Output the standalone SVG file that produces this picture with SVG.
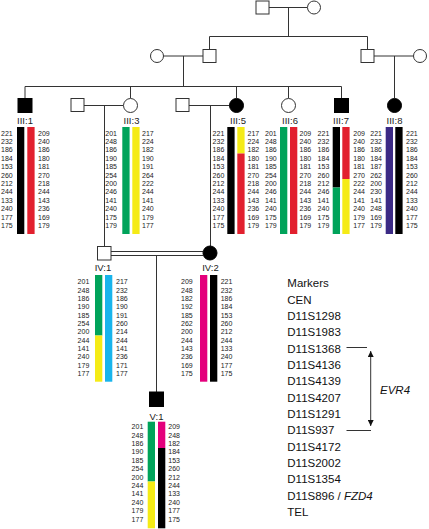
<svg xmlns="http://www.w3.org/2000/svg" width="429" height="529" viewBox="0 0 429 529">
<defs>
<style>
.ln{stroke:#333;stroke-width:1;fill:none}
.sym{stroke:#333;stroke-width:1;fill:#fff}
.aff{stroke:#000;stroke-width:1;fill:#000}
.n{font-family:"Liberation Sans",Arial,sans-serif;font-size:7px;fill:#222}
.lb{font-family:"Liberation Sans",Arial,sans-serif;font-size:9.5px;fill:#222;text-anchor:middle}
.mk{font-family:"Liberation Sans",Arial,sans-serif;font-size:11.5px;fill:#111}
.bk{fill:#000}.rd{fill:#e2202e}.yl{fill:#f5eb16}.gr{fill:#00a35a}.cy{fill:#18b4ec}.mg{fill:#e4007c}.pu{fill:#3b2a85}
</style>
<marker id="ah" markerWidth="6" markerHeight="6" refX="6" refY="3" orient="auto-start-reverse" markerUnits="userSpaceOnUse">
<path d="M0,0 L6,3 L0,6 z" fill="#111"/>
</marker>
</defs>
<rect width="429" height="529" fill="#fff"/>

<g id="connectors">
<path class="ln" d="M269,7.5 H307.5 M288.5,7.5 V36.5 M209.5,36.5 H367.5 M209.5,36.5 V49 M367.5,36.5 V49"/>
<path class="ln" d="M163.5,56 H203 M183.5,56 V86.5 M374,56 H413.5 M394.5,56 V98"/>
<path class="ln" d="M25,86.5 H341.5 M25,86.5 V98 M130.5,86.5 V98 M236.5,86.5 V98 M288.5,86.5 V98 M341.5,86.5 V98"/>
<path class="ln" d="M84,105.5 H123.5 M104.5,105.5 V246 M189,105.5 H229.5 M210.5,105.5 V246"/>
<path class="ln" d="M111,251.5 H203 M111,255.5 H203 M156.5,255.5 V392"/>
</g>

<g id="I-1"><rect class="sym" x="256" y="1" width="13" height="13"/></g>
<g id="I-2"><circle class="sym" cx="314" cy="7.5" r="6.5"/></g>
<g id="II-1"><circle class="sym" cx="157" cy="56" r="6.5"/></g>
<g id="II-2"><rect class="sym" x="203" y="49.5" width="13" height="13"/></g>
<g id="II-3"><rect class="sym" x="361" y="49.5" width="13" height="13"/></g>
<g id="II-4"><circle class="sym" cx="420" cy="56" r="6.5"/></g>

<g id="III-1">
<rect class="aff" x="18" y="98.5" width="14" height="14"/>
<text class="lb" x="25" y="124">III:1</text>
<rect class="bk" x="17" y="127" width="7.3" height="107"/>
<rect class="rd" x="27.3" y="127" width="7.3" height="107"/>
<text class="n" text-anchor="end"><tspan x="12.7" y="135.5">221</tspan><tspan x="12.7" dy="8.42">232</tspan><tspan x="12.7" dy="8.42">186</tspan><tspan x="12.7" dy="8.42">184</tspan><tspan x="12.7" dy="8.42">153</tspan><tspan x="12.7" dy="8.42">260</tspan><tspan x="12.7" dy="8.42">212</tspan><tspan x="12.7" dy="8.42">244</tspan><tspan x="12.7" dy="8.42">133</tspan><tspan x="12.7" dy="8.42">240</tspan><tspan x="12.7" dy="8.42">177</tspan><tspan x="12.7" dy="8.42">175</tspan></text>
<text class="n"><tspan x="38" y="135.5">209</tspan><tspan x="38" dy="8.42">240</tspan><tspan x="38" dy="8.42">186</tspan><tspan x="38" dy="8.42">180</tspan><tspan x="38" dy="8.42">181</tspan><tspan x="38" dy="8.42">270</tspan><tspan x="38" dy="8.42">218</tspan><tspan x="38" dy="8.42">244</tspan><tspan x="38" dy="8.42">143</tspan><tspan x="38" dy="8.42">236</tspan><tspan x="38" dy="8.42">169</tspan><tspan x="38" dy="8.42">179</tspan></text>
</g>

<g id="III-2"><rect class="sym" x="71" y="98.5" width="13" height="13"/></g>

<g id="III-3">
<circle class="sym" cx="130.5" cy="105.5" r="7"/>
<text class="lb" x="131.5" y="124">III:3</text>
<rect class="gr" x="122.3" y="127" width="7.3" height="107"/>
<rect class="yl" x="132.3" y="127" width="7.3" height="107"/>
<text class="n" text-anchor="end"><tspan x="117" y="135.5">201</tspan><tspan x="117" dy="8.42">248</tspan><tspan x="117" dy="8.42">186</tspan><tspan x="117" dy="8.42">190</tspan><tspan x="117" dy="8.42">185</tspan><tspan x="117" dy="8.42">254</tspan><tspan x="117" dy="8.42">200</tspan><tspan x="117" dy="8.42">246</tspan><tspan x="117" dy="8.42">141</tspan><tspan x="117" dy="8.42">240</tspan><tspan x="117" dy="8.42">175</tspan><tspan x="117" dy="8.42">179</tspan></text>
<text class="n"><tspan x="142" y="135.5">217</tspan><tspan x="142" dy="8.42">224</tspan><tspan x="142" dy="8.42">182</tspan><tspan x="142" dy="8.42">190</tspan><tspan x="142" dy="8.42">191</tspan><tspan x="142" dy="8.42">264</tspan><tspan x="142" dy="8.42">222</tspan><tspan x="142" dy="8.42">244</tspan><tspan x="142" dy="8.42">141</tspan><tspan x="142" dy="8.42">240</tspan><tspan x="142" dy="8.42">179</tspan><tspan x="142" dy="8.42">177</tspan></text>
</g>

<g id="III-4"><rect class="sym" x="176" y="98.5" width="13" height="13"/></g>

<g id="III-5">
<circle class="aff" cx="236.5" cy="105.5" r="7"/>
<text class="lb" x="238" y="124">III:5</text>
<rect class="bk" x="227.3" y="127" width="7.3" height="107"/>
<rect class="yl" x="237.3" y="127" width="7.3" height="26.5"/>
<rect class="rd" x="237.3" y="153.5" width="7.3" height="80.5"/>
<text class="n" text-anchor="end"><tspan x="224.3" y="135.5">221</tspan><tspan x="224.3" dy="8.42">232</tspan><tspan x="224.3" dy="8.42">186</tspan><tspan x="224.3" dy="8.42">184</tspan><tspan x="224.3" dy="8.42">153</tspan><tspan x="224.3" dy="8.42">260</tspan><tspan x="224.3" dy="8.42">212</tspan><tspan x="224.3" dy="8.42">244</tspan><tspan x="224.3" dy="8.42">133</tspan><tspan x="224.3" dy="8.42">240</tspan><tspan x="224.3" dy="8.42">177</tspan><tspan x="224.3" dy="8.42">175</tspan></text>
<text class="n"><tspan x="247.5" y="135.5">217</tspan><tspan x="247.5" dy="8.42">224</tspan><tspan x="247.5" dy="8.42">182</tspan><tspan x="247.5" dy="8.42">180</tspan><tspan x="247.5" dy="8.42">181</tspan><tspan x="247.5" dy="8.42">270</tspan><tspan x="247.5" dy="8.42">218</tspan><tspan x="247.5" dy="8.42">244</tspan><tspan x="247.5" dy="8.42">143</tspan><tspan x="247.5" dy="8.42">236</tspan><tspan x="247.5" dy="8.42">169</tspan><tspan x="247.5" dy="8.42">179</tspan></text>
</g>

<g id="III-6">
<circle class="sym" cx="288.5" cy="105.5" r="7"/>
<text class="lb" x="290" y="124">III:6</text>
<rect class="gr" x="280" y="127" width="7.3" height="107"/>
<rect class="rd" x="290" y="127" width="7.3" height="107"/>
<text class="n" text-anchor="end"><tspan x="276.7" y="135.5">201</tspan><tspan x="276.7" dy="8.42">248</tspan><tspan x="276.7" dy="8.42">186</tspan><tspan x="276.7" dy="8.42">190</tspan><tspan x="276.7" dy="8.42">185</tspan><tspan x="276.7" dy="8.42">254</tspan><tspan x="276.7" dy="8.42">200</tspan><tspan x="276.7" dy="8.42">246</tspan><tspan x="276.7" dy="8.42">141</tspan><tspan x="276.7" dy="8.42">240</tspan><tspan x="276.7" dy="8.42">175</tspan><tspan x="276.7" dy="8.42">179</tspan></text>
<text class="n"><tspan x="299.5" y="135.5">209</tspan><tspan x="299.5" dy="8.42">240</tspan><tspan x="299.5" dy="8.42">186</tspan><tspan x="299.5" dy="8.42">180</tspan><tspan x="299.5" dy="8.42">181</tspan><tspan x="299.5" dy="8.42">270</tspan><tspan x="299.5" dy="8.42">218</tspan><tspan x="299.5" dy="8.42">244</tspan><tspan x="299.5" dy="8.42">143</tspan><tspan x="299.5" dy="8.42">236</tspan><tspan x="299.5" dy="8.42">169</tspan><tspan x="299.5" dy="8.42">179</tspan></text>
</g>

<g id="III-7">
<rect class="aff" x="334.5" y="98.5" width="14" height="14"/>
<text class="lb" x="341" y="124">III:7</text>
<rect class="bk" x="332.7" y="127" width="7.3" height="60.5"/>
<rect class="gr" x="332.7" y="187.5" width="7.3" height="46.5"/>
<rect class="rd" x="342.3" y="127" width="7.3" height="52"/>
<rect class="yl" x="342.3" y="179" width="7.3" height="55"/>
<text class="n" text-anchor="end"><tspan x="329.3" y="135.5">221</tspan><tspan x="329.3" dy="8.42">232</tspan><tspan x="329.3" dy="8.42">186</tspan><tspan x="329.3" dy="8.42">184</tspan><tspan x="329.3" dy="8.42">153</tspan><tspan x="329.3" dy="8.42">260</tspan><tspan x="329.3" dy="8.42">212</tspan><tspan x="329.3" dy="8.42">246</tspan><tspan x="329.3" dy="8.42">141</tspan><tspan x="329.3" dy="8.42">240</tspan><tspan x="329.3" dy="8.42">175</tspan><tspan x="329.3" dy="8.42">179</tspan></text>
<text class="n"><tspan x="353.3" y="135.5">209</tspan><tspan x="353.3" dy="8.42">240</tspan><tspan x="353.3" dy="8.42">186</tspan><tspan x="353.3" dy="8.42">180</tspan><tspan x="353.3" dy="8.42">181</tspan><tspan x="353.3" dy="8.42">270</tspan><tspan x="353.3" dy="8.42">222</tspan><tspan x="353.3" dy="8.42">244</tspan><tspan x="353.3" dy="8.42">141</tspan><tspan x="353.3" dy="8.42">240</tspan><tspan x="353.3" dy="8.42">179</tspan><tspan x="353.3" dy="8.42">177</tspan></text>
</g>

<g id="III-8">
<circle class="aff" cx="394.5" cy="105.5" r="7"/>
<text class="lb" x="394.5" y="124">III:8</text>
<rect class="pu" x="385.7" y="127" width="7.3" height="107"/>
<rect class="bk" x="395.3" y="127" width="7.3" height="107"/>
<text class="n" text-anchor="end"><tspan x="382" y="135.5">221</tspan><tspan x="382" dy="8.42">232</tspan><tspan x="382" dy="8.42">186</tspan><tspan x="382" dy="8.42">184</tspan><tspan x="382" dy="8.42">187</tspan><tspan x="382" dy="8.42">262</tspan><tspan x="382" dy="8.42">200</tspan><tspan x="382" dy="8.42">230</tspan><tspan x="382" dy="8.42">141</tspan><tspan x="382" dy="8.42">248</tspan><tspan x="382" dy="8.42">169</tspan><tspan x="382" dy="8.42">179</tspan></text>
<text class="n"><tspan x="406" y="135.5">221</tspan><tspan x="406" dy="8.42">232</tspan><tspan x="406" dy="8.42">186</tspan><tspan x="406" dy="8.42">184</tspan><tspan x="406" dy="8.42">153</tspan><tspan x="406" dy="8.42">260</tspan><tspan x="406" dy="8.42">212</tspan><tspan x="406" dy="8.42">244</tspan><tspan x="406" dy="8.42">133</tspan><tspan x="406" dy="8.42">240</tspan><tspan x="406" dy="8.42">177</tspan><tspan x="406" dy="8.42">175</tspan></text>
</g>

<g id="IV-1">
<rect class="sym" x="97.5" y="246.5" width="13.5" height="13.5"/>
<text class="lb" x="103" y="270.5">IV:1</text>
<rect class="gr" x="95" y="275" width="7.3" height="60.5"/>
<rect class="yl" x="95" y="335.5" width="7.3" height="46.2"/>
<rect class="cy" x="105" y="275" width="7.3" height="106.7"/>
<text class="n" text-anchor="end"><tspan x="89.3" y="284.2">201</tspan><tspan x="89.3" dy="8.35">248</tspan><tspan x="89.3" dy="8.35">186</tspan><tspan x="89.3" dy="8.35">190</tspan><tspan x="89.3" dy="8.35">185</tspan><tspan x="89.3" dy="8.35">254</tspan><tspan x="89.3" dy="8.35">200</tspan><tspan x="89.3" dy="8.35">244</tspan><tspan x="89.3" dy="8.35">141</tspan><tspan x="89.3" dy="8.35">240</tspan><tspan x="89.3" dy="8.35">179</tspan><tspan x="89.3" dy="8.35">177</tspan></text>
<text class="n"><tspan x="116" y="284.2">217</tspan><tspan x="116" dy="8.35">232</tspan><tspan x="116" dy="8.35">186</tspan><tspan x="116" dy="8.35">190</tspan><tspan x="116" dy="8.35">191</tspan><tspan x="116" dy="8.35">260</tspan><tspan x="116" dy="8.35">214</tspan><tspan x="116" dy="8.35">244</tspan><tspan x="116" dy="8.35">141</tspan><tspan x="116" dy="8.35">236</tspan><tspan x="116" dy="8.35">171</tspan><tspan x="116" dy="8.35">177</tspan></text>
</g>

<g id="IV-2">
<circle class="aff" cx="210" cy="253" r="7"/>
<text class="lb" x="210.5" y="270.5">IV:2</text>
<rect class="mg" x="200" y="275" width="7.3" height="106.7"/>
<rect class="bk" x="210" y="275" width="7.3" height="106.7"/>
<text class="n" text-anchor="end"><tspan x="192.7" y="284.2">209</tspan><tspan x="192.7" dy="8.35">248</tspan><tspan x="192.7" dy="8.35">182</tspan><tspan x="192.7" dy="8.35">192</tspan><tspan x="192.7" dy="8.35">185</tspan><tspan x="192.7" dy="8.35">262</tspan><tspan x="192.7" dy="8.35">200</tspan><tspan x="192.7" dy="8.35">244</tspan><tspan x="192.7" dy="8.35">143</tspan><tspan x="192.7" dy="8.35">236</tspan><tspan x="192.7" dy="8.35">169</tspan><tspan x="192.7" dy="8.35">175</tspan></text>
<text class="n"><tspan x="220.7" y="284.2">221</tspan><tspan x="220.7" dy="8.35">232</tspan><tspan x="220.7" dy="8.35">186</tspan><tspan x="220.7" dy="8.35">184</tspan><tspan x="220.7" dy="8.35">153</tspan><tspan x="220.7" dy="8.35">260</tspan><tspan x="220.7" dy="8.35">212</tspan><tspan x="220.7" dy="8.35">244</tspan><tspan x="220.7" dy="8.35">133</tspan><tspan x="220.7" dy="8.35">240</tspan><tspan x="220.7" dy="8.35">177</tspan><tspan x="220.7" dy="8.35">175</tspan></text>
</g>

<g id="V-1">
<rect class="aff" x="149.5" y="392" width="14" height="14.5"/>
<text class="lb" x="156.5" y="419.5">V:1</text>
<rect class="gr" x="147.7" y="421.7" width="7.3" height="59.8"/>
<rect class="yl" x="147.7" y="481.5" width="7.3" height="46.8"/>
<rect class="mg" x="158" y="421.7" width="7.3" height="26.3"/>
<rect class="bk" x="158" y="448" width="7.3" height="80.3"/>
<text class="n" text-anchor="end"><tspan x="143.3" y="429.2">201</tspan><tspan x="143.3" dy="8.4">248</tspan><tspan x="143.3" dy="8.4">186</tspan><tspan x="143.3" dy="8.4">190</tspan><tspan x="143.3" dy="8.4">185</tspan><tspan x="143.3" dy="8.4">254</tspan><tspan x="143.3" dy="8.4">200</tspan><tspan x="143.3" dy="8.4">244</tspan><tspan x="143.3" dy="8.4">141</tspan><tspan x="143.3" dy="8.4">240</tspan><tspan x="143.3" dy="8.4">179</tspan><tspan x="143.3" dy="8.4">177</tspan></text>
<text class="n"><tspan x="168.3" y="429.2">209</tspan><tspan x="168.3" dy="8.4">248</tspan><tspan x="168.3" dy="8.4">182</tspan><tspan x="168.3" dy="8.4">184</tspan><tspan x="168.3" dy="8.4">153</tspan><tspan x="168.3" dy="8.4">260</tspan><tspan x="168.3" dy="8.4">212</tspan><tspan x="168.3" dy="8.4">244</tspan><tspan x="168.3" dy="8.4">133</tspan><tspan x="168.3" dy="8.4">240</tspan><tspan x="168.3" dy="8.4">177</tspan><tspan x="168.3" dy="8.4">175</tspan></text>
</g>

<g id="markers">
<text class="mk"><tspan x="287.3" y="287.2">Markers</tspan><tspan x="287.3" dy="16.35">CEN</tspan><tspan x="287.3" dy="16.35">D11S1298</tspan><tspan x="287.3" dy="16.35">D11S1983</tspan><tspan x="287.3" dy="16.35">D11S1368</tspan><tspan x="287.3" dy="16.35">D11S4136</tspan><tspan x="287.3" dy="16.35">D11S4139</tspan><tspan x="287.3" dy="16.35">D11S4207</tspan><tspan x="287.3" dy="16.35">D11S1291</tspan><tspan x="287.3" dy="16.35">D11S937</tspan><tspan x="287.3" dy="16.35">D11S4172</tspan><tspan x="287.3" dy="16.35">D11S2002</tspan><tspan x="287.3" dy="16.35">D11S1354</tspan><tspan x="287.3" dy="16.35">D11S896 / <tspan font-style="italic">FZD4</tspan></tspan><tspan x="287.3" dy="16.35">TEL</tspan></text>
</g>

<g id="EVR4">
<path class="ln" d="M346.5,347.5 H367 M346.5,430.5 H371"/>
<path class="ln" stroke="#111" d="M370.7,351 V426" marker-start="url(#ah)" marker-end="url(#ah)"/>
<text class="mk" x="380" y="393.5" font-style="italic">EVR4</text>
</g>
</svg>
